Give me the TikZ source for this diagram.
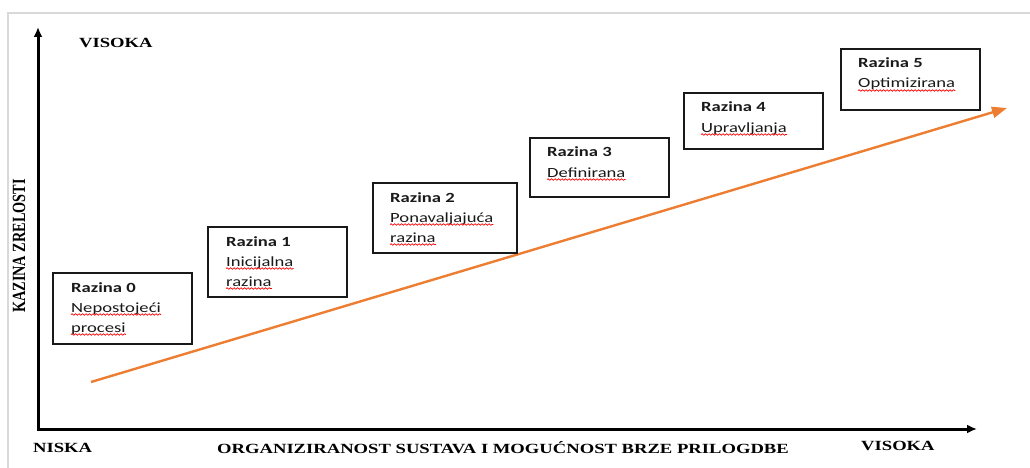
\documentclass[tikz,border=0pt]{standalone}
\usepackage{fontspec}
\setmainfont{Liberation Serif}
\newfontfamily\boxfont{Carlito}
\usetikzlibrary{arrows.meta,positioning,decorations.pathmorphing}

\definecolor{trendorange}{RGB}{237,125,49}
\definecolor{framegray}{RGB}{217,217,217}
\newcommand{\wide}[1]{\scalebox{1.33}[1]{#1}}

\tikzset{
  axis/.style={line width=3pt,{Latex[length=10pt,width=9pt]}-{Latex[length=10pt,width=9pt]}},
  trend/.style={draw=trendorange,line width=2.4pt,-{Triangle[length=15pt,width=11pt]}},
  axlabel/.style={font=\fontsize{14}{16}\selectfont\bfseries,inner sep=0pt,anchor=base west},
  levelbox/.style={draw=black!90,line width=1.6pt,anchor=north west,inner sep=0pt},
  levelhead/.style={font=\boxfont\fontsize{14}{16}\selectfont\bfseries,text=black!90,inner sep=0pt,anchor=base west},
  levelname/.style={font=\boxfont\fontsize{14}{16}\selectfont,text=black!90,inner sep=0pt,anchor=base west},
  squiggle/.style={draw=red,line width=0.7pt,decorate,decoration={snake,amplitude=0.8pt,segment length=3.5pt}},
}

\begin{document}
\begin{tikzpicture}[x=1pt,y=-1pt]
    \useasboundingbox (0,0) rectangle (1030,468);
    \draw[framegray,line width=2pt] (8,468) -- (8,13) -- (1030,13);

    % axes
    \coordinate (origin) at (38,429);
    \coordinate (ytip) at (38,27);
    \coordinate (xtip) at (977,429);
    \draw[axis] (ytip) -- (origin) -- (xtip);

    \node[axlabel] (ytop) at (79,48) {\wide{VISOKA}};
    \node[axlabel] (xlow) at (33,452) {\wide{NISKA}};
    \node[axlabel] (xname) at (217,453) {\wide{ORGANIZIRANOST SUSTAVA I MOGUĆNOST BRZE PRILOGDBE}};
    \node[axlabel] (xhigh) at (861,450) {\wide{VISOKA}};
    \node[axlabel,rotate=90,anchor=base] (yname) at (25,246) {\scalebox{1.02}[1.33]{KAZINA ZRELOSTI}};

    % trend
    \coordinate (trendstart) at (91,382);
    \coordinate (trendend) at (1007,108);
    \draw[trend] (trendstart) -- (trendend);

    % levels
    \node[levelbox,minimum width=139pt,minimum height=71pt] (r0) at (52,272) {};
    \node[levelhead] (h0) at ([shift={(19,20)}]r0.north west) {\wide{Razina 0}};
    \node[levelname] (n0a) at ([shift={(0,20)}]h0.base west) {\wide{Nepostojeći}};
    \node[levelname] (n0b) at ([shift={(0,20)}]n0a.base west) {\wide{procesi}};

    \node[levelbox,minimum width=139pt,minimum height=70pt] (r1) at (207,226) {};
    \node[levelhead] (h1) at ([shift={(19,20)}]r1.north west) {\wide{Razina 1}};
    \node[levelname] (n1a) at ([shift={(0,20)}]h1.base west) {\wide{Inicijalna}};
    \node[levelname] (n1b) at ([shift={(0,20)}]n1a.base west) {\wide{razina}};

    \node[levelbox,minimum width=144pt,minimum height=70pt] (r2) at (372,182) {};
    \node[levelhead] (h2) at ([shift={(18,20)}]r2.north west) {\wide{Razina 2}};
    \node[levelname] (n2a) at ([shift={(0,20)}]h2.base west) {\wide{Ponavaljajuća}};
    \node[levelname] (n2b) at ([shift={(0,20)}]n2a.base west) {\wide{razina}};

    \node[levelbox,minimum width=139pt,minimum height=59pt] (r3) at (529,137) {};
    \node[levelhead] (h3) at ([shift={(18,20)}]r3.north west) {\wide{Razina 3}};
    \node[levelname] (n3a) at ([shift={(0,20)}]h3.base west) {\wide{Definirana}};

    \node[levelbox,minimum width=139pt,minimum height=56pt] (r4) at (683,92) {};
    \node[levelhead] (h4) at ([shift={(18,20)}]r4.north west) {\wide{Razina 4}};
    \node[levelname] (n4a) at ([shift={(0,20)}]h4.base west) {\wide{Upravljanja}};

    \node[levelbox,minimum width=139pt,minimum height=61pt] (r5) at (840,48) {};
    \node[levelhead] (h5) at ([shift={(18,20)}]r5.north west) {\wide{Razina 5}};
    \node[levelname] (n5a) at ([shift={(0,20)}]h5.base west) {\wide{Optimizirana}};

    % spelling marks
    \foreach \n in {n0a,n0b,n1a,n1b,n2a,n2b,n3a,n4a,n5a}
        \draw[squiggle] ([shift={(0,2.5)}]\n.base west) -- ([shift={(0,2.5)}]\n.base east);
\end{tikzpicture}
\end{document}
